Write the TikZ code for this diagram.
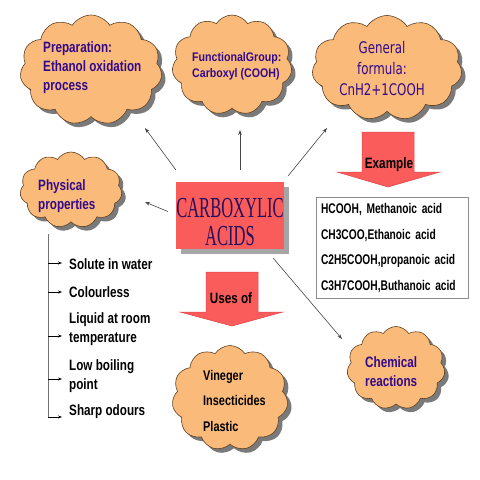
\documentclass[tikz,border=0pt]{standalone}
\usepackage{fontspec}
\setmainfont{Liberation Sans}
\newfontfamily\cfont[FakeStretch=0.78]{Liberation Sans}
\newfontfamily\efont[FakeStretch=0.73]{Liberation Sans}
\newfontfamily\ffont[FakeStretch=0.85]{Liberation Sans}
\newfontfamily\gfont[FakeStretch=0.74]{DejaVu Sans}
\newfontfamily\tfont[FakeStretch=0.57]{Liberation Serif}
\usetikzlibrary{shapes.symbols,shadows,arrows.meta}
\definecolor{cloudfill}{RGB}{250,186,122}
\definecolor{cloudline}{RGB}{95,65,35}
\definecolor{ink}{RGB}{50,10,140}
\definecolor{boxred}{RGB}{250,92,92}
\definecolor{arrowline}{RGB}{225,70,70}
\definecolor{titleink}{RGB}{40,15,90}
\definecolor{connc}{RGB}{70,70,70}
\begin{document}
\begin{tikzpicture}[x=1pt,y=-1pt,
  cloudbox/.style={cloud, cloud puffs=11, cloud puff arc=115, cloud ignores aspect,
    draw=cloudline, line width=0.6pt, fill=cloudfill, inner sep=0pt,
    drop shadow={shadow xshift=4pt, shadow yshift=-4pt, fill=black!65, opacity=0.8}},
  ctext/.style={inner sep=0pt, align=left, text=ink, font=\cfont\bfseries\fontsize{15}{19}\selectfont},
  btext/.style={inner sep=0pt, align=left, text=black, font=\cfont\bfseries\fontsize{15}{19}\selectfont},
  conn/.style={draw=connc, line width=0.6pt, -{Stealth[length=5pt,width=3.5pt]}},
  trunk/.style={draw=black!55, line width=1pt},
  twig/.style={draw=black, line width=0.6pt, -{Stealth[length=4pt,width=3pt]}, shorten >=7pt},
  blockarrow/.style={fill=boxred, draw=arrowline, line width=0.5pt}
]
\useasboundingbox[fill=white] (0,0) rectangle (480,480);

% clouds
\node[cloudbox, minimum width=142pt, minimum height=110pt] (prep) at (91,70) {};
\node[cloudbox, minimum width=120pt, minimum height=100pt] (func) at (232,65) {};
\node[cloudbox, minimum width=150pt, minimum height=105pt] (gen) at (387,68) {};
\node[cloudbox, minimum width=102pt, minimum height=76pt] (phys) at (71,190) {};
\node[cloudbox, minimum width=116pt, minimum height=105pt] (usecl) at (230,398) {};
\node[cloudbox, minimum width=98pt, minimum height=83pt] (chem) at (396,368) {};

\node[ctext, anchor=north west] (prept) at (43,41) {Preparation:\\Ethanol oxidation\\process};
\node[ctext, anchor=north west, font=\ffont\bfseries\fontsize{12.5}{16.5}\selectfont] (funct) at (192,52) {FunctionalGroup:\\Carboxyl (COOH)};
\node[ctext, anchor=north, align=center, font=\gfont\fontsize{16}{21}\selectfont] (gent) at (382,41.5) {General\\formula:\\CnH2+1COOH};
\node[ctext, anchor=north west] (physt) at (38,179) {Physical\\properties};
\node[btext, anchor=north west, font=\cfont\bfseries\fontsize{14}{25.5}\selectfont] (uset) at (203,370) {Vineger\\Insecticides\\Plastic};
\node[ctext, anchor=north west] (chemt) at (365,356) {Chemical\\reactions};

% centre box
\node[fill=boxred, minimum width=108pt, minimum height=67pt, inner sep=0pt,
  drop shadow={shadow xshift=5pt, shadow yshift=-5pt, fill=black!35, opacity=1}] (acid) at (230,215.5) {};
\node[inner sep=0pt, align=center, text=titleink, font=\tfont\fontsize{29}{28}\selectfont, anchor=north] (acidt) at (230,198) {CARBOXYLIC\\ACIDS};

% block arrows
\draw[blockarrow] (362,132) -- (414,132) -- (414,172) -- (440,172) -- (388,187) -- (337,172) -- (362,172) -- cycle;
\node[btext, anchor=base] (exlab) at (389,168) {Example};
\draw[blockarrow] (206,272) -- (258,272) -- (258,312) -- (283,312) -- (232,326) -- (180,312) -- (206,312) -- cycle;
\node[btext, anchor=base] (uselab) at (231,303) {Uses of};

% example box
\node[draw=black!45, line width=0.7pt, inner xsep=5pt, inner ysep=0pt, text width=142pt, minimum height=101pt,
  align=left, font=\efont\bfseries\fontsize{14}{25.7}\selectfont] (exbox) at (392,248)
  {HCOOH, Methanoic acid\\CH3COO,Ethanoic acid\\C2H5COOH,propanoic acid\\C3H7COOH,Buthanoic acid};

% connectors from centre
\draw[conn] ([shift={(0,-12)}]acid.north west) -- ([shift={(54,58)}]prep.center);
\draw[conn] ([shift={(10,-12)}]acid.north) -- ([shift={(8,65)}]func.center);
\draw[conn] ([shift={(4,-6)}]acid.north east) -- ([shift={(-60,60)}]gen.center);
\draw[conn] ([shift={(-8,-4)}]acid.west) -- ([shift={(74,12)}]phys.center);
\draw[conn] ([shift={(-11,9)}]acid.south east) -- ([shift={(-54,-29)}]chem.center);

% physical properties list
\node[btext, anchor=base west] (i1) at (69,269) {Solute in water};
\node[btext, anchor=base west] (i2) at (69,297) {Colourless};
\node[btext, anchor=north west] (i3) at (69,312) {Liquid at room\\temperature};
\node[btext, anchor=north west] (i4) at (69,359) {Low boiling\\point};
\node[btext, anchor=base west] (i5) at (69,415) {Sharp odours};
\coordinate (ptop) at (48,234);
\coordinate (a1) at (48,263);
\coordinate (a2) at (48,292);
\coordinate (a3) at (48,336);
\coordinate (a4) at (48,379);
\coordinate (a5) at (48,417);
\draw[trunk] (ptop) -- (a5);
\draw[twig] (a1) -- (a1 -| i1.west);
\draw[twig] (a2) -- (a2 -| i2.west);
\draw[twig] (a3) -- (a3 -| i3.west);
\draw[twig] (a4) -- (a4 -| i4.west);
\draw[twig] (a5) -- (a5 -| i5.west);
\end{tikzpicture}
\end{document}
